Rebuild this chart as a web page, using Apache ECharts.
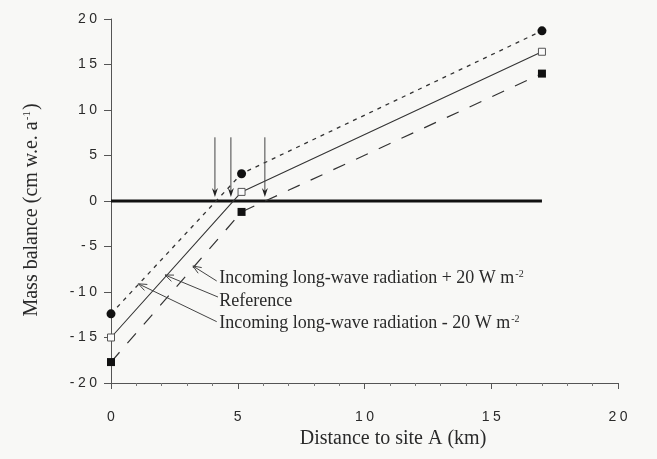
<!DOCTYPE html>
<html><head><meta charset="utf-8">
<script src="https://cdn.jsdelivr.net/npm/echarts@6/dist/echarts.min.js"></script>
<style>html,body{margin:0;padding:0;background:#f8f8f6}#c{width:657px;height:459px}</style>
</head><body><div id="c"></div><script>
// ---- data ----
const distanceKm = [0, 5.15, 17];
const balancePlus20 = [-17.7, -1.2, 14.0];     // filled squares, dashed
const balanceReference = [-15.0, 1.0, 16.4];   // open squares, solid
const balanceMinus20 = [-12.4, 3.0, 18.7];     // filled circles, dotted
const zeroLineX = [0, 17];
const equilibriumX = [4.1, 4.73, 6.07];
const arrowTopY = 7.0, arrowTipY = 0.45;
const xTickValues = [0, 5, 10, 15, 20];
const yTickValues = [-20, -15, -10, -5, 0, 5, 10, 15, 20];
const leaderAnchorX = [3.23, 2.13, 1.08];
const leaderAnchorY = [-7.14, -8.13, -9.1];
const leaderTailX = [4.17, 4.22, 4.17];
const leaderTailY = [-8.79, -10.55, -13.26];
const labelX = [4.27, 4.27, 4.27];
const labelY = [-8.46, -10.99, -13.41];
const labelTexts = [
  '{a|Incoming long-wave radiation + 20 W m}{s|-2}',
  '{a|Reference}',
  '{a|Incoming long-wave radiation - 20 W m}{s|-2}'
];

const serif = 'Liberation Serif';
const sans = 'Liberation Sans';
const ink = '#2a2a2a';

function fmtTick(v) {
  const s = String(Math.abs(v)).split('').join('\u2005');
  return v < 0 ? '-\u2005' + s : s;
}

const chart = echarts.init(document.getElementById('c'), null, {renderer: 'canvas'});
const pairs = (xs, ys) => xs.map((x, i) => [x, ys[i]]);

chart.setOption({
  backgroundColor: '#f8f8f6',
  animation: false,
  grid: {left: 111, right: 39, top: 19, bottom: 76},
  xAxis: {
    type: 'value', min: 0, max: 20, interval: 5,
    name: 'Distance to site A (km)', nameLocation: 'middle', nameGap: 45,
    nameTextStyle: {fontFamily: serif, fontSize: 20, color: ink, padding: [0, 0, 0, 57]},
    axisLine: {onZero: false, lineStyle: {color: '#555', width: 1}},
    axisTick: {length: 6, lineStyle: {color: '#555'}},
    minorTick: {show: true, splitNumber: 5, length: 3, lineStyle: {color: '#777'}},
    axisLabel: {margin: 27, fontFamily: sans, fontSize: 14, color: ink, formatter: fmtTick},
    splitLine: {show: false}
  },
  yAxis: {
    type: 'value', min: -20, max: 20, interval: 5,
    name: '{a|Mass balance (cm w.e. a}{s|-1}{a|)}', nameLocation: 'middle', nameGap: 69,
    nameTextStyle: {fontFamily: serif, fontSize: 20, color: ink, padding: [0, 18, 0, 0],
      rich: {a: {fontFamily: serif, fontSize: 20, color: ink},
             s: {fontFamily: serif, fontSize: 11, color: ink, verticalAlign: 'top', padding: [0, 1, 8, 1]}}},
    axisLine: {onZero: false, lineStyle: {color: '#555', width: 1}},
    axisTick: {length: 7, lineStyle: {color: '#555'}},
    axisLabel: {margin: 14, fontFamily: sans, fontSize: 14, color: ink, formatter: fmtTick},
    splitLine: {show: false}
  },
  series: [
    {
      name: 'zero', type: 'line', data: zeroLineX.map(x => [x, 0]), symbol: 'none',
      lineStyle: {color: '#111', width: 3}, z: 1
    },
    {
      name: 'minus20', type: 'line', data: pairs(distanceKm, balanceMinus20),
      symbol: 'circle', symbolSize: 9,
      itemStyle: {color: '#111'},
      lineStyle: {color: '#333', width: 1.3, type: [4, 5]}, z: 3
    },
    {
      name: 'reference', type: 'line', data: pairs(distanceKm, balanceReference),
      symbol: 'rect', symbolSize: 7,
      itemStyle: {color: '#fafafa', borderColor: '#555', borderWidth: 1},
      lineStyle: {color: '#333', width: 1.1, type: 'solid'}, z: 3
    },
    {
      name: 'plus20', type: 'line', data: pairs(distanceKm, balancePlus20),
      symbol: 'rect', symbolSize: 8,
      itemStyle: {color: '#111'},
      lineStyle: {color: '#333', width: 1.2, type: [13, 12]}, z: 3
    },
    {
      name: 'arrows', type: 'custom', z: 4,
      data: equilibriumX.map(x => [x, arrowTopY, arrowTipY]),
      renderItem: function (params, api) {
        const top = api.coord([api.value(0), api.value(1)]);
        const tip = api.coord([api.value(0), api.value(2)]);
        return {
          type: 'group', children: [
            {type: 'line', shape: {x1: top[0], y1: top[1], x2: tip[0], y2: tip[1] - 4},
             style: {stroke: '#444', lineWidth: 1}},
            {type: 'polygon', shape: {points: [[tip[0] - 3, tip[1] - 9], [tip[0], tip[1]], [tip[0] + 3, tip[1] - 9], [tip[0], tip[1] - 6]]},
             style: {fill: '#222'}}
          ]
        };
      }
    },
    {
      name: 'leaders', type: 'custom', z: 5,
      data: leaderAnchorX.map((x, i) => [x, leaderAnchorY[i], leaderTailX[i], leaderTailY[i], labelX[i], labelY[i], i]),
      renderItem: function (params, api) {
        const a = api.coord([api.value(0), api.value(1)]);
        const t = api.coord([api.value(2), api.value(3)]);
        const l = api.coord([api.value(4), api.value(5)]);
        const idx = api.value(6);
        const ang = Math.atan2(a[1] - t[1], a[0] - t[0]);
        const hl = 9, spread = 0.38;
        const h1 = [a[0] - hl * Math.cos(ang - spread), a[1] - hl * Math.sin(ang - spread)];
        const h2 = [a[0] - hl * Math.cos(ang + spread), a[1] - hl * Math.sin(ang + spread)];
        return {
          type: 'group', children: [
            {type: 'line', shape: {x1: t[0], y1: t[1], x2: a[0], y2: a[1]}, style: {stroke: '#444', lineWidth: 1}},
            {type: 'polyline', shape: {points: [h1, a, h2]}, style: {stroke: '#444', lineWidth: 1, fill: null}},
            {type: 'text', x: l[0], y: l[1], style: {
              text: labelTexts[idx], verticalAlign: 'middle', align: 'left',
              rich: {a: {fontFamily: serif, fontSize: 18, fill: ink},
                     s: {fontFamily: serif, fontSize: 10, fill: ink, verticalAlign: 'top', padding: [0, 0, 8, 1]}}
            }}
          ]
        };
      }
    }
  ]
});
</script></body></html>
